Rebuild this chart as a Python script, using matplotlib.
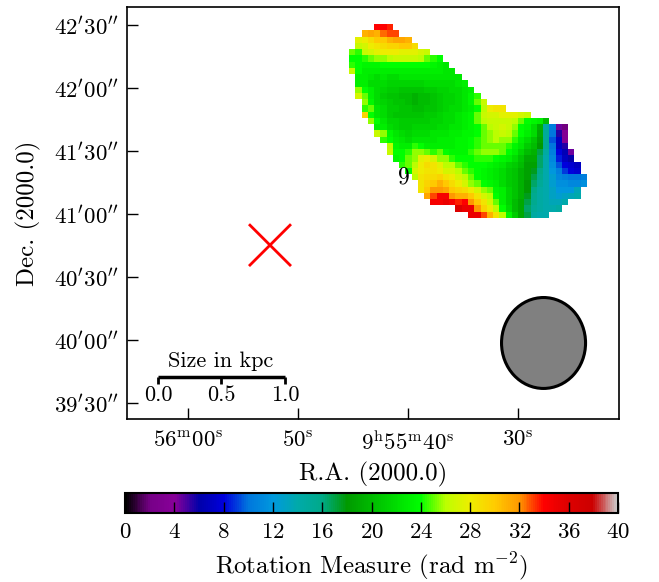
import numpy as np
import matplotlib
matplotlib.use("Agg")
import matplotlib.pyplot as plt
from matplotlib.patches import Ellipse

plt.rcParams['font.family'] = ['cmr10', 'DejaVu Serif']
plt.rcParams['mathtext.fontset'] = 'cm'
plt.rcParams['axes.unicode_minus'] = False
plt.rcParams['axes.formatter.use_mathtext'] = True

row_starts = [4, 2, 1, 1, 0, 0, 0, 0, 1, 1, 1, 1, 2, 2, 2, 3, 4, 4, 5, 6, 6, 7, 8, 9, 10, 11, 11, 12, 13, 17, 19]
row_values = [
 [34, 34, 33.5],
 [31, 31.5, 31, 32.5, 33, 33],
 [27.5, 28, 29, 30, 30, 31, 31.5, 31.5, 31],
 [26.5, 27, 28, 28.5, 29, 29.5, 29.5, 30, 30, 29],
 [25, 24.5, 26.5, 27, 27.5, 28, 28, 28, 27.5, 27.5, 27.5, 27, 26.5],
 [24, 24, 24.5, 25, 25.5, 25.5, 26, 26.5, 26.5, 26.5, 26.5, 26, 25, 24.5, 24],
 [24.5, 24, 23.5, 23.5, 23.5, 24, 24, 24, 24, 24, 24, 24, 24, 23.5, 23, 22.5],
 [26.5, 24, 23, 23, 23, 23, 23, 23, 23, 23, 23, 23, 23, 23, 23, 22.5, 22.5],
 [23, 23, 22.5, 22, 22.5, 22, 22, 22.5, 22.5, 22.5, 22.5, 22.5, 22.5, 22.5, 22.5, 22.5, 22.5],
 [23, 23, 22, 22, 22, 21.5, 21.5, 21.5, 21.5, 21.5, 21.5, 22, 22, 22, 22, 22, 22.5, 23],
 [25.5, 24, 23, 22, 21.5, 21, 21, 20.5, 20.5, 20.5, 20.5, 21, 21, 21.5, 21.5, 22, 22, 22.5, 23],
 [27, 25, 23, 22, 21, 20.5, 20.5, 20, 20, 19.5, 20, 20, 20.5, 21, 21.5, 21.5, 22, 22.5, 23.5, 24.5],
 [25.5, 23.5, 22, 21.5, 21, 20.5, 20.5, 20, 19.5, 20, 20, 20.5, 21, 21.5, 21.5, 22, 22.5, 23.5, 25, 26.5],
 [24.5, 25, 22.5, 22, 21, 21, 20.5, 20.5, 20, 20, 20.5, 20.5, 21, 21.5, 22, 22, 22.5, 23, 24, 26, 28, 28.5, 28.5],
 [29.5, 24, 22.5, 22, 21, 20.5, 20.5, 20.5, 20.5, 20.5, 21, 21, 21.5, 22, 22, 22.5, 23, 23.5, 25, 26.5, 27, 27, 27.5, 27.5, 27.5, 27, 26.5],
 [25.5, 24, 22.5, 21.5, 21.5, 21, 21, 21, 21, 21, 21.5, 21.5, 22, 22, 22.5, 23, 23.5, 25, 26, 26.5, 26.5, 26.5, 26.5, 26, 25, 24, 23.5, 23, 20],
 [23, 23, 22, 21.5, 21, 21, 21.5, 21.5, 21.5, 21.5, 22, 22, 22.5, 22.5, 23, 23.5, 24, 25, 26, 26.5, 27, 26.5, 25.5, 24, 23.5, 22, 19.5, 14.5, 10.5, 4.5, 2],
 [26.5, 25.5, 23.5, 22.5, 22, 21.5, 22, 22, 22, 22.5, 22.5, 22.5, 23, 23, 23.5, 23.5, 24, 25, 25.5, 26, 26.5, 26, 25, 24, 23, 22, 19, 15, 10, 5.5, 3.5],
 [24.5, 24, 23, 22.5, 22, 22.5, 22.5, 22.5, 22.5, 23, 23, 23, 23.5, 23.5, 24, 24.5, 25, 25.5, 26, 25.5, 25.5, 24.5, 23, 22, 20.5, 18.5, 15, 9.5, 7, 3.5],
 [26, 23.5, 23, 23, 24.5, 24, 23, 23, 23, 23, 23, 23.5, 23.5, 24, 24.5, 25, 25, 25, 25, 24.5, 23.5, 22.5, 21, 20, 18, 15, 10, 7, 5.5],
 [26.5, 24, 24, 24.5, 25.5, 25.5, 25, 24.5, 25, 24, 23.5, 23.5, 23.5, 24.5, 25, 25.5, 25.5, 25.5, 25, 24, 23, 21.5, 20, 19.5, 17, 14.5, 10.5, 8, 6.5, 4.5],
 [23.5, 24, 25, 25.5, 27.5, 28, 27, 25.5, 25.5, 24.5, 24, 24, 24, 24.5, 24.5, 24.5, 24, 23.5, 23, 22, 20.5, 19, 19, 16.5, 14, 11, 8.5, 7, 6],
 [24.5, 25, 26, 28, 29, 28.5, 27.5, 26, 26, 25, 24.5, 24, 24, 24, 23.5, 23, 22.5, 21.5, 21, 20, 18.5, 18.5, 16.5, 14, 11.5, 9.5, 8, 7.5, 7],
 [24, 27, 28, 28.5, 28.5, 28, 27, 27, 26, 25, 24.5, 24, 23.5, 23, 22.5, 22, 21, 20.5, 19.5, 18.5, 17.5, 16, 14, 12, 10.5, 9, 8, 7.5],
 [26, 28.5, 29, 29, 29.5, 28.5, 28, 27, 26, 25, 24, 23.5, 23, 22.5, 22, 21, 20.5, 19.5, 18.5, 17, 15.5, 14, 12.5, 11, 10.5, 10, 10, 10.5],
 [28.5, 29.5, 30, 31, 30, 29, 28, 27, 25.5, 25, 24, 23.5, 23, 22, 21, 20.5, 19.5, 18, 16.5, 15, 14, 12.5, 11.5, 11.5, 11, 11, 11.5],
 [28.5, 30, 32, 32, 31.5, 30, 29.5, 29, 28, 27, 25.5, 25, 23.5, 23, 21.5, 20.5, 19.5, 18, 16, 14.5, 14, 13, 12, 12, 12, 13.5],
 [31.5, 33, 34.5, 34.5, 32, 31, 31, 30, 28.5, 27, 26, 24, 23, 21.5, 20.5, 19.5, 17.5, 15.5, 14.5, 14, 13, 12.5, 13, 13.5, 14],
 [34.5, 34.5, 35, 34.5, 33.5, 34, 32, 30, 28.5, 27, 25, 23, 21.5, 20, 19, 17, 15.5, 14.5, 14, 13.5, 13.5, 14],
 [36, 35, 35, 32, 29.5, 28, 26, 24, 22, 20, 19, 16.5, 15, 14.5, 14, 14, 14.5],
 [35, 35, 33, 31, 28.5, 26, 23.5, 21, 19, 17, 14.5, 14, 14],
]
n_columns = 38
cbar_ticks = [0, 4, 8, 12, 16, 20, 24, 28, 32, 36, 40]
ra_ticks = [60, 50, 40, 30]
ra_labels = [r'$56^{\rm m}00^{\rm s}$', r'$50^{\rm s}$', r'$9^{\rm h}55^{\rm m}40^{\rm s}$', r'$30^{\rm s}$']
dec_ticks = [2550, 2520, 2490, 2460, 2430, 2400, 2370]
dec_labels = [r"$42'30''$", r"$42'00''$", r"$41'30''$", r"$41'00''$", r"$40'30''$", r"$40'00''$", r"$39'30''$"]
scale_kpc = ['0.0', '0.5', '1.0']

grid = np.full((len(row_values), n_columns), np.nan)
for j, (start, vals) in enumerate(zip(row_starts, row_values)):
    grid[j, start:start + len(vals)] = vals

W, H = 659, 582
fig = plt.figure(figsize=(W / 100, H / 100), dpi=100)
def rect(l, t, r, b):
    return [l / W, 1 - b / H, (r - l) / W, (b - t) / H]
ax = fig.add_axes(rect(127, 7, 619, 419))
cmap = plt.get_cmap('nipy_spectral')
im = ax.imshow(np.ma.masked_invalid(grid), cmap=cmap, vmin=0, vmax=40, aspect='auto',
               interpolation='nearest', extent=[45.41, 23.83, 2458, 2550], origin='upper')
ax.set_xlim(65.55, 20.82)
ax.set_ylim(2362.4, 2558.6)
ax.set_xticks(ra_ticks, ra_labels)
ax.set_yticks(dec_ticks, dec_labels)
ax.tick_params(direction='in', length=7.7, width=1.0, labelsize=16.5, pad=6, top=False, right=False)
ax.tick_params(axis='x', pad=8)
for s in ax.spines.values():
    s.set_linewidth(1.2)
ax.set_xlabel('R.A. (2000.0)', fontsize=18, labelpad=5.5)
ax.set_ylabel('Dec. (2000.0)', fontsize=18, labelpad=9.5)

ax.text(40.36, 2477.6, '9', fontsize=17, ha='center', va='center', color='black')
ax.plot([54.37, 50.73], [2454.7, 2435.7], color='red', lw=2)
ax.plot([54.37, 50.73], [2435.7, 2454.7], color='red', lw=2)
ax.add_patch(Ellipse((27.68, 2398.6), 7.64, 43.3, facecolor='gray', edgecolor='black', lw=2.2))

sx = [62.73, 57.0, 51.18]
ax.plot([sx[0], sx[2]], [2382.4, 2382.4], color='black', lw=2.5, solid_capstyle='butt')
for x, lab in zip(sx, scale_kpc):
    ax.plot([x, x], [2382.4, 2379.0], color='black', lw=2, solid_capstyle='butt')
    ax.text(x, 2373.9, lab, fontsize=16, ha='center', va='center')
ax.text(57.0, 2389.7, 'Size in kpc', fontsize=16, ha='center', va='center')

cax = fig.add_axes(rect(125, 493, 618, 513))
cb = fig.colorbar(im, cax=cax, orientation='horizontal', ticks=cbar_ticks)
cb.ax.tick_params(direction='in', length=7.7, width=1.0, labelsize=16.5, pad=7)
cb.outline.set_linewidth(1.5)
cb.set_label(r'Rotation Measure (rad m$^{-2}$)', fontsize=18, labelpad=6)
fig.savefig('out.png', dpi=100)
